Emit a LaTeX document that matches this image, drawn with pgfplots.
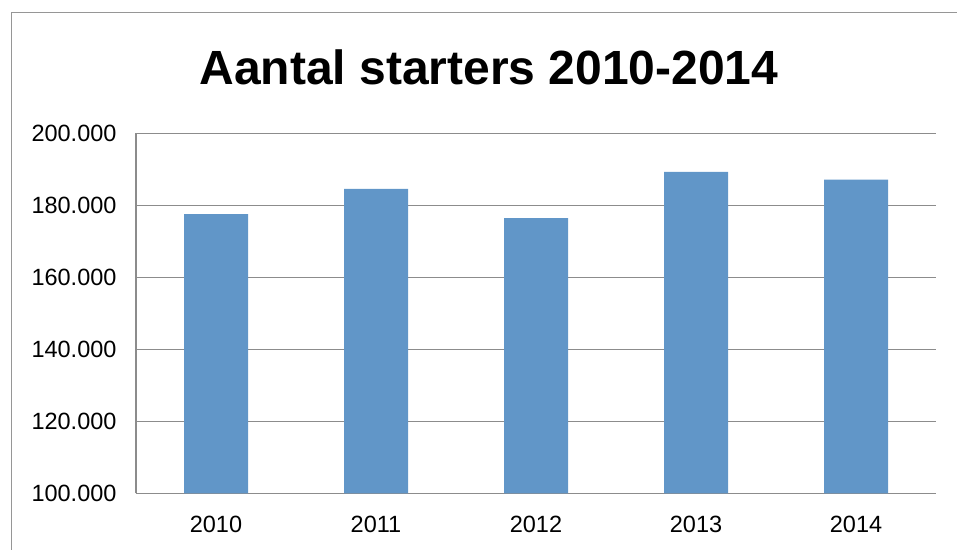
\documentclass[border=0pt]{standalone}
\usepackage{pgfplots}
\pgfplotsset{compat=1.18}
\usepackage{fontspec}
\setmainfont{Liberation Sans}
\definecolor{barblue}{RGB}{97,150,200}
\definecolor{gridgray}{RGB}{140,140,140}
\definecolor{framegray}{RGB}{150,150,150}
\begin{document}
\begin{tikzpicture}
\path[use as bounding box] (0pt,0pt) rectangle (957pt,549pt);
\clip (0pt,0pt) rectangle (957pt,549pt);
\draw[framegray, line width=1.5pt] (11.5pt,536.5pt) rectangle (990pt,-30pt);
\node[anchor=base, font=\fontsize{48}{56}\selectfont\bfseries] at (489pt,464pt) {Aantal starters 2010-2014};
\coordinate (ax) at (136pt,55.7pt);
\begin{axis}[
  at={(ax)}, anchor=south west,
  width=800pt, height=359.8pt, scale only axis,
  xmin=-0.5, xmax=4.5, ymin=100000, ymax=200000,
  scaled y ticks=false,
  ytick={100000,120000,140000,160000,180000,200000},
  yticklabels={100.000,120.000,140.000,160.000,180.000,200.000},
  xtick=data, xticklabels={2010,2011,2012,2013,2014},
  ymajorgrids, grid style={gridgray, line width=1.3pt},
  axis x line*=bottom, axis y line*=left,
  axis line style={gridgray, line width=1.3pt},
  x axis line style={-}, y axis line style={-},
  major tick length=0pt,
  tick label style={font=\fontsize{23.5}{27}\selectfont},
  /pgf/number format/assume math mode=true,
  yticklabel style={xshift=-16pt},
  xticklabel style={yshift=-19pt},
  ybar, bar width=64pt,
]
\addplot[fill=barblue, draw=none, bar shift=0pt] coordinates {
(0,177600) (1,184600) (2,176500) (3,189300) (4,187200)};
\end{axis}
\end{tikzpicture}
\end{document}
